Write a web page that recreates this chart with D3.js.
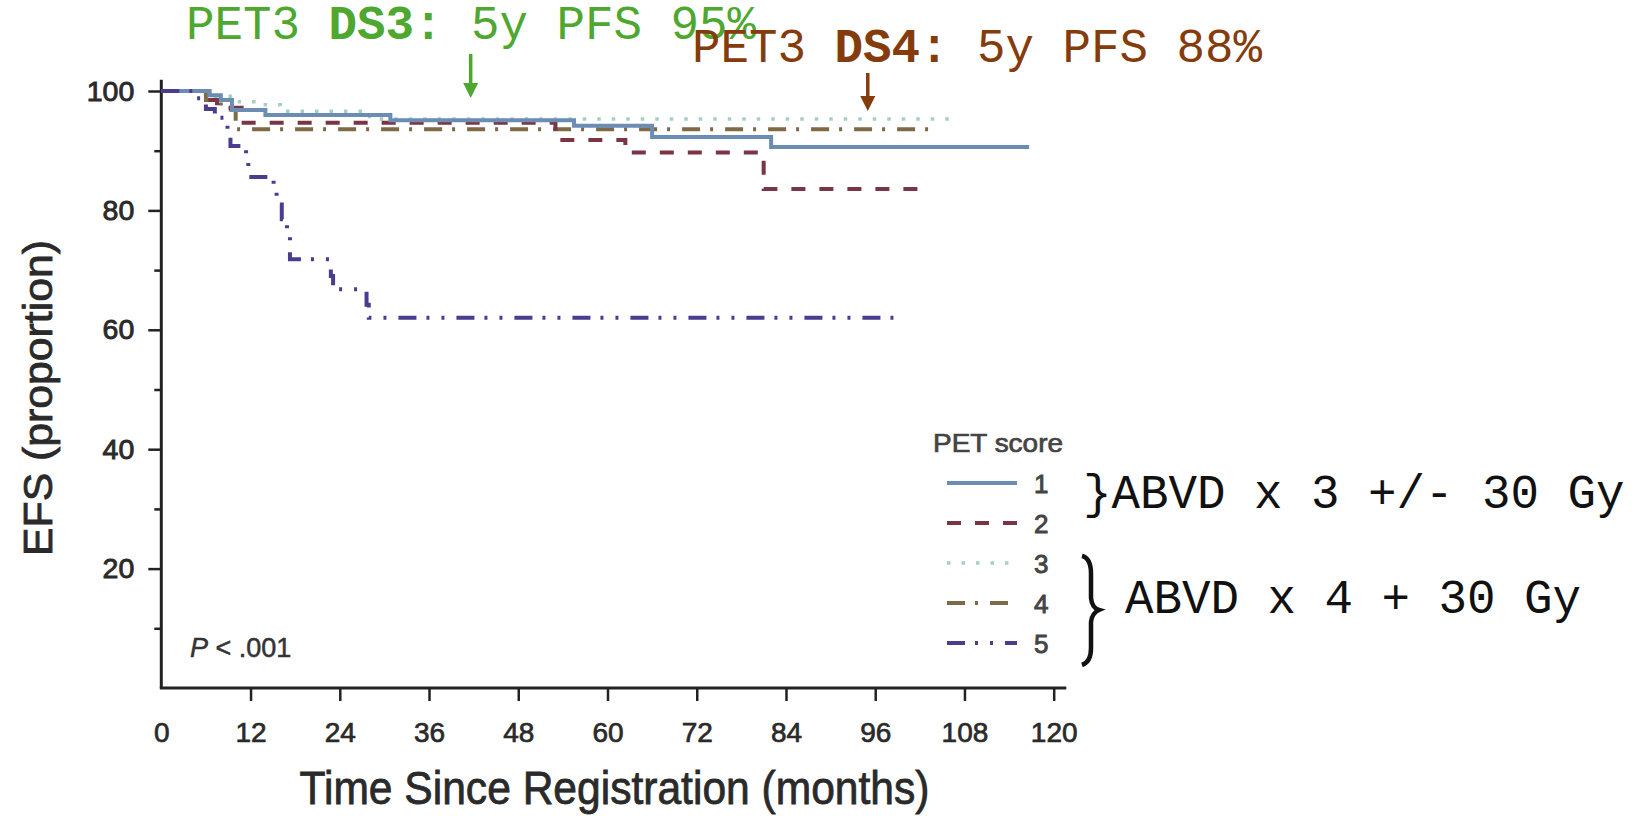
<!DOCTYPE html>
<html>
<head>
<meta charset="utf-8">
<script src="https://cdn.jsdelivr.net/npm/d3@7/dist/d3.min.js"></script>
<style>
  html, body { margin: 0; padding: 0; background: #ffffff; }
  svg { display: block; }
</style>
</head>
<body>
<svg id="chart" width="1647" height="816"></svg>
<script>
// Event-free survival by interim PET score (Kaplan-Meier step curves)
const petScores = ["1", "2", "3", "4", "5"];

const pet1Months = [0, 6.5, 8.0, 9.5, 14.0, 30.8, 55.5, 66.0, 82.0, 116.7];
const pet1EFS    = [100, 99.3, 98.5, 96.8, 96.0, 95.1, 94.2, 92.3, 90.6, 90.6];

const pet2Months = [0, 6.0, 7.5, 10.8, 53.0, 62.4, 81.0, 103.2];
const pet2EFS    = [100, 98.5, 97.2, 94.7, 91.8, 89.7, 83.6, 83.6];

const pet3Months = [0, 7.0, 10.5, 13.0, 16.0, 28.0, 106.7];
const pet3EFS    = [100, 99.1, 98.2, 97.7, 96.6, 95.3, 95.3];

const pet4Months = [0, 6.0, 8.0, 10.0, 104.7];
const pet4EFS    = [100, 98.5, 96.9, 93.6, 93.6];

const pet5Months = [0, 4.8, 6.0, 7.2, 8.9, 9.3, 11.4, 11.7, 15.1, 15.5, 16.2, 16.9, 17.3, 22.8, 23.1, 27.6, 27.9, 99.5];
const pet5EFS    = [100, 98.8, 97.0, 95.5, 93.2, 90.8, 88.3, 85.6, 83.5, 81.0, 78.5, 75.5, 71.8, 69.0, 66.8, 64.2, 62.0, 62.0];

const xTickValues = [0, 12, 24, 36, 48, 60, 72, 84, 96, 108, 120];
const yTickValues = [20, 40, 60, 80, 100];
const yMinorTicks = [10, 30, 50, 70, 90];

const seriesColors = ["#6b8db3", "#7a3444", "#a6cfc3", "#7f6a47", "#4b3c8e"];
const seriesDash   = ["none", "14,14", "3.5,11", "18,10,3,12", "18,10,3,12,3,12"];

const curves = [
  { score: petScores[0], months: pet1Months, efs: pet1EFS },
  { score: petScores[1], months: pet2Months, efs: pet2EFS },
  { score: petScores[2], months: pet3Months, efs: pet3EFS },
  { score: petScores[3], months: pet4Months, efs: pet4EFS },
  { score: petScores[4], months: pet5Months, efs: pet5EFS }
].map((c, i) => ({
  ...c,
  color: seriesColors[i],
  dash: seriesDash[i],
  points: c.months.map((m, j) => [m, c.efs[j]])
}));

const svg = d3.select("#chart");
const sans = "'Liberation Sans', Arial, Helvetica, sans-serif";
const mono = "'Liberation Mono', 'Courier New', monospace";
const ink = "#2a2a2a";

const x = d3.scaleLinear().domain([0, 120]).range([161.3, 1053.7]);
const y = d3.scaleLinear().domain([0, 100]).range([688, 91]);

// axis lines
svg.append("line")
  .attr("x1", x(0)).attr("x2", x(0))
  .attr("y1", y(0)).attr("y2", y(101.9))
  .attr("stroke", "#222").attr("stroke-width", 3);
svg.append("line")
  .attr("x1", x(0) - 1.5).attr("x2", x(121.7))
  .attr("y1", y(0)).attr("y2", y(0))
  .attr("stroke", "#222").attr("stroke-width", 3);

// x axis
const xAxis = svg.append("g")
  .attr("transform", `translate(0,${y(0)})`)
  .call(d3.axisBottom(x).tickValues(xTickValues).tickSize(13).tickPadding(21).tickFormat(d3.format("d")));
xAxis.select(".domain").remove();
xAxis.selectAll(".tick line").attr("stroke", "#222").attr("stroke-width", 2.5)
  .filter(d => d === 0).remove();
xAxis.selectAll(".tick text")
  .attr("font-family", sans).attr("font-size", 28).attr("fill", ink)
  .attr("stroke", ink).attr("stroke-width", 0.7);

// y axis, labelled and minor ticks
const yAxis = svg.append("g")
  .attr("transform", `translate(${x(0)},0)`)
  .call(d3.axisLeft(y).tickValues(yTickValues).tickSize(13).tickPadding(14));
yAxis.select(".domain").remove();
yAxis.selectAll(".tick line").attr("stroke", "#222").attr("stroke-width", 2.5);
yAxis.selectAll(".tick text")
  .attr("font-family", sans).attr("font-size", 28.5).attr("fill", ink)
  .attr("stroke", ink).attr("stroke-width", 0.9);

const yMinor = svg.append("g")
  .attr("transform", `translate(${x(0)},0)`)
  .call(d3.axisLeft(y).tickValues(yMinorTicks).tickSize(7).tickFormat(""));
yMinor.select(".domain").remove();
yMinor.selectAll(".tick line").attr("stroke", "#222").attr("stroke-width", 2.5);

// axis titles
svg.append("text")
  .attr("x", 614.5).attr("y", 804)
  .attr("text-anchor", "middle")
  .attr("font-family", sans).attr("font-size", 46).attr("fill", ink)
  .attr("stroke", ink).attr("stroke-width", 0.8)
  .attr("textLength", 630).attr("lengthAdjust", "spacingAndGlyphs")
  .text("Time Since Registration (months)");

svg.append("text")
  .attr("transform", "translate(52,398) rotate(-90)")
  .attr("text-anchor", "middle")
  .attr("font-family", sans).attr("font-size", 40).attr("fill", ink)
  .attr("stroke", ink).attr("stroke-width", 0.8)
  .attr("textLength", 316).attr("lengthAdjust", "spacingAndGlyphs")
  .text("EFS (proportion)");

// survival curves
const line = d3.line()
  .x(d => x(d[0]))
  .y(d => y(d[1]))
  .curve(d3.curveStepAfter);

const drawOrder = [2, 3, 1, 0, 4];
svg.append("g").selectAll("path")
  .data(drawOrder.map(i => curves[i]))
  .join("path")
  .attr("d", d => line(d.points))
  .attr("fill", "none")
  .attr("stroke", d => d.color)
  .attr("stroke-width", d => d.score === "3" ? 3.5 : 4)
  .attr("stroke-dasharray", d => d.dash);

// p-value
const pText = svg.append("text")
  .attr("x", 190).attr("y", 657)
  .attr("font-family", sans).attr("font-size", 27).attr("fill", "#333")
  .attr("stroke", "#333").attr("stroke-width", 0.5);
pText.append("tspan").attr("font-style", "italic").text("P");
pText.append("tspan").text(" < .001");

// legend
svg.append("text")
  .attr("x", 933).attr("y", 452)
  .attr("font-family", sans).attr("font-size", 25).attr("fill", "#444")
  .attr("stroke", "#444").attr("stroke-width", 0.7)
  .attr("textLength", 130).attr("lengthAdjust", "spacingAndGlyphs")
  .text("PET score");

const legendRows = svg.append("g").selectAll("g")
  .data(curves)
  .join("g")
  .attr("transform", (d, i) => `translate(0,${483 + i * 40})`);
legendRows.append("line")
  .attr("x1", 947).attr("x2", 1017)
  .attr("stroke", d => d.color)
  .attr("stroke-width", d => d.score === "3" ? 3.5 : 4)
  .attr("stroke-dasharray", d => d.dash);
legendRows.append("text")
  .attr("x", 1034).attr("y", 9.5)
  .attr("font-family", sans).attr("font-size", 26).attr("fill", "#444")
  .attr("stroke", "#444").attr("stroke-width", 0.9)
  .text(d => d.score);

// treatment groups
svg.append("text")
  .attr("x", 1083).attr("y", 508)
  .attr("font-family", mono).attr("font-size", 47.5).attr("fill", "#111")
  .text("}ABVD x 3 +/- 30 Gy");

svg.append("path")
  .attr("d", "M1082,556 Q1091,558 1091,574 L1091,598 Q1092,608 1099,610 Q1092,613 1091,622 L1091,648 Q1091,662 1082,665")
  .attr("fill", "none").attr("stroke", "#111").attr("stroke-width", 4.5);

svg.append("text")
  .attr("x", 1125).attr("y", 613)
  .attr("font-family", mono).attr("font-size", 47.5).attr("fill", "#111")
  .text("ABVD x 4 + 30 Gy");

// annotations with arrows
function annotation(opts) {
  const t = svg.append("text")
    .attr("x", opts.x).attr("y", opts.y)
    .attr("font-family", mono).attr("font-size", 47.5).attr("fill", opts.color);
  t.append("tspan").text("PET3 ");
  t.append("tspan").attr("font-weight", "bold").text(opts.bold);
  t.append("tspan").text(opts.rest);

  const ax = x(opts.month);
  svg.append("line")
    .attr("x1", ax).attr("x2", ax)
    .attr("y1", opts.y0).attr("y2", opts.y1 - 14)
    .attr("stroke", opts.color).attr("stroke-width", 3.5);
  svg.append("path")
    .attr("d", `M${ax - 7.5},${opts.y1 - 15} L${ax + 7.5},${opts.y1 - 15} L${ax},${opts.y1} Z`)
    .attr("fill", opts.color);
}

annotation({ x: 186, y: 39, color: "#4ea72e", bold: "DS3:", rest: " 5y PFS 95%", month: 41.6, y0: 54, y1: 98 });
annotation({ x: 692, y: 62, color: "#843c0c", bold: "DS4:", rest: " 5y PFS 88%", month: 95.0, y0: 73, y1: 111 });
</script>
</body>
</html>
